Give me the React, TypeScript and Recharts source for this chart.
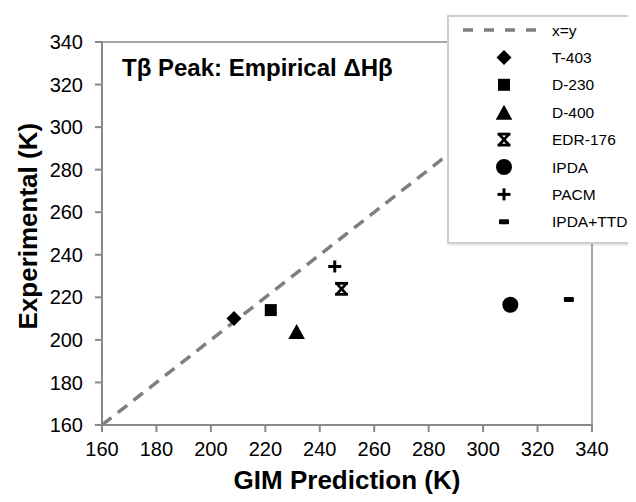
import React from 'react';
import { ScatterChart, Scatter, XAxis, YAxis, Legend, ReferenceArea } from 'recharts';

const xTicks = [160, 180, 200, 220, 240, 260, 280, 300, 320, 340];
const yTicks = [160, 180, 200, 220, 240, 260, 280, 300, 320, 340];

const identityLine = [{ x: 160, y: 160 }, { x: 340, y: 340 }];
const t403 = [{ x: 208.5, y: 210 }];
const d230 = [{ x: 222, y: 214 }];
const d400 = [{ x: 231.5, y: 204 }];
const edr176 = [{ x: 248, y: 224 }];
const ipda = [{ x: 310, y: 216.5 }];
const pacm = [{ x: 245.5, y: 234.5 }];
const ipdaTtd = [{ x: 331.5, y: 219 }];

const seriesNames = ['x=y', 'T-403', 'D-230', 'D-400', 'EDR-176', 'IPDA', 'PACM', 'IPDA+TTD'];

const FONT = '"Liberation Sans", Arial, sans-serif';
const AXIS = '#898989';

type P = { cx?: number; cy?: number };

const Diamond = ({ cx = 0, cy = 0 }: P) => (
  <polygon points={`${cx},${cy - 7.5} ${cx + 7.5},${cy} ${cx},${cy + 7.5} ${cx - 7.5},${cy}`} fill="#000" />
);
const Square = ({ cx = 0, cy = 0 }: P) => <rect x={cx - 6} y={cy - 6} width={12} height={12} fill="#000" />;
const Triangle = ({ cx = 0, cy = 0 }: P) => (
  <polygon points={`${cx},${cy - 7.5} ${cx + 8.3},${cy + 7.5} ${cx - 8.3},${cy + 7.5}`} fill="#000" />
);
const Circle = ({ cx = 0, cy = 0 }: P) => <circle cx={cx} cy={cy} r={8} fill="#000" />;
const Plus = ({ cx = 0, cy = 0 }: P) => (
  <g stroke="#000" strokeWidth={3}>
    <line x1={cx - 6.5} y1={cy} x2={cx + 6.5} y2={cy} />
    <line x1={cx} y1={cy - 6} x2={cx} y2={cy + 6} />
  </g>
);
const Star = ({ cx = 0, cy = 0 }: P) => (
  <g stroke="#000" strokeWidth={2.8}>
    <line x1={cx - 5} y1={cy - 5.5} x2={cx + 5} y2={cy + 5.5} />
    <line x1={cx + 5} y1={cy - 5.5} x2={cx - 5} y2={cy + 5.5} />
    <line x1={cx - 6.5} y1={cy - 5.5} x2={cx + 6.5} y2={cy - 5.5} />
    <line x1={cx - 6.5} y1={cy + 5.5} x2={cx + 6.5} y2={cy + 5.5} />
  </g>
);
const Dash = ({ cx = 0, cy = 0 }: P) => <rect x={cx - 5} y={cy - 2.5} width={10} height={5} rx={1} fill="#000" />;
const NoShape = () => <g />;

const markerShapes = [null, Diamond, Square, Triangle, Star, Circle, Plus, Dash];

const LegendBox = () => (
  <div
    style={{
      width: 190,
      height: 229,
      boxSizing: 'border-box',
      border: '2px solid #cfcfcf',
      background: '#fff',
      boxShadow: '1px 1px 2px rgba(0,0,0,0.15)',
    }}
  >
    <svg width={188} height={227} style={{ display: 'block' }}>
      {seriesNames.map((name, i) => {
        const cy = 13 + i * 27.4;
        const Shape = markerShapes[i];
        return (
          <g key={name}>
            {Shape ? (
              <Shape cx={55} cy={cy} />
            ) : (
              <line x1={14} y1={cy} x2={90} y2={cy} stroke="#7f7f7f" strokeWidth={3.5} strokeDasharray="10 11" />
            )}
            <text x={103} y={cy} dy="0.36em" fontFamily={FONT} fontSize={15.5} fill="#000">
              {name}
            </text>
          </g>
        );
      })}
    </svg>
  </div>
);

export default function App() {
  return (
    <div style={{ position: 'relative', width: 628, height: 494, overflow: 'hidden', fontFamily: FONT }}>
      <ScatterChart width={628} height={494} margin={{ top: 34, right: 44, bottom: 7, left: 24 }}>
        <ReferenceArea x1={160} x2={340} y1={160} y2={340} fill="none" stroke={AXIS} strokeWidth={1.5} ifOverflow="visible" />
        <XAxis
          type="number"
          dataKey="x"
          domain={[160, 340]}
          ticks={xTicks}
          interval={0}
          allowDataOverflow
          height={70}
          tickSize={7}
          tickMargin={10}
          axisLine={{ stroke: AXIS, strokeWidth: 2 }}
          tickLine={{ stroke: AXIS, strokeWidth: 2 }}
          tick={{ fill: '#000', fontSize: 20, fontFamily: FONT }}
          label={{
            value: 'GIM Prediction (K)',
            position: 'insideBottom',
            offset: 6,
            fill: '#000',
            fontSize: 26,
            fontWeight: 'bold',
            fontFamily: FONT,
          }}
        />
        <YAxis
          type="number"
          dataKey="y"
          domain={[160, 340]}
          ticks={yTicks}
          interval={0}
          allowDataOverflow
          width={70}
          tickSize={7}
          tickMargin={12}
          axisLine={{ stroke: AXIS, strokeWidth: 2 }}
          tickLine={{ stroke: AXIS, strokeWidth: 2 }}
          tick={{ fill: '#000', fontSize: 20, fontFamily: FONT }}
          label={{
            value: 'Experimental (K)',
            angle: -90,
            position: 'insideLeft',
            offset: -4,
            dy: 96,
            fill: '#000',
            fontSize: 26,
            fontWeight: 'bold',
            fontFamily: FONT,
          }}
        />
        <Scatter
          name="x=y"
          data={identityLine}
          line={{ stroke: '#7f7f7f', strokeWidth: 3.5, strokeDasharray: '12 8' }}
          shape={NoShape}
          isAnimationActive={false}
        />
        <Scatter name="T-403" data={t403} shape={Diamond} isAnimationActive={false} />
        <Scatter name="D-230" data={d230} shape={Square} isAnimationActive={false} />
        <Scatter name="D-400" data={d400} shape={Triangle} isAnimationActive={false} />
        <Scatter name="EDR-176" data={edr176} shape={Star} isAnimationActive={false} />
        <Scatter name="IPDA" data={ipda} shape={Circle} isAnimationActive={false} />
        <Scatter name="PACM" data={pacm} shape={Plus} isAnimationActive={false} />
        <Scatter name="IPDA+TTD" data={ipdaTtd} shape={Dash} isAnimationActive={false} />
        <Legend
          layout="vertical"
          align="center"
          verticalAlign="middle"
          content={() => <LegendBox />}
          wrapperStyle={{ position: 'absolute', left: 439, top: 7, width: 190, height: 229 }}
        />
      </ScatterChart>
      <div
        style={{
          position: 'absolute',
          left: 114,
          top: 48,
          fontSize: 24,
          lineHeight: 1,
          fontWeight: 'bold',
          color: '#000',
          whiteSpace: 'nowrap',
        }}
      >
        Tβ Peak: Empirical ΔHβ
      </div>
    </div>
  );
}
